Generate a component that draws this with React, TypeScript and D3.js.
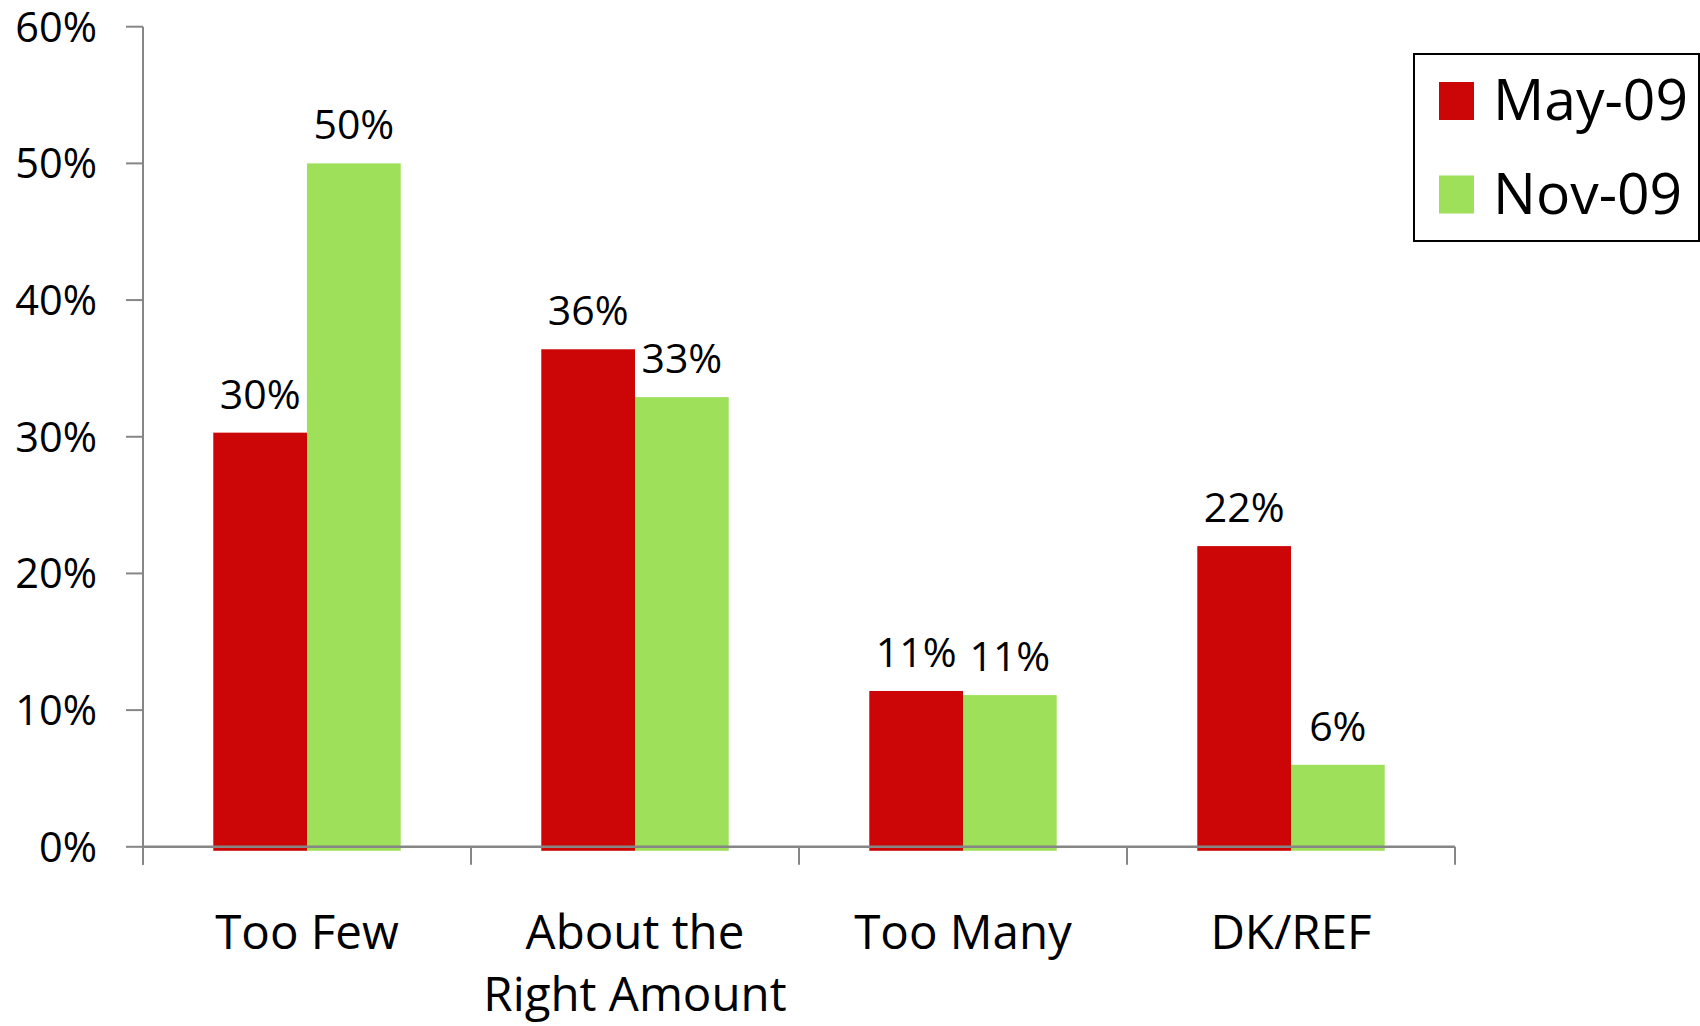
import React from "react";
import * as d3 from "d3";

const categories: string[][] = [["Too Few"], ["About the", "Right Amount"], ["Too Many"], ["DK/REF"]];
const seriesNames = ["May-09", "Nov-09"];
const may09 = [30.3, 36.4, 11.4, 22];
const nov09 = [50, 32.9, 11.1, 6];
const may09Labels = ["30%", "36%", "11%", "22%"];
const nov09Labels = ["50%", "33%", "11%", "6%"];
const yTicks = [0, 10, 20, 30, 40, 50, 60];
const colors = ["#CC0606", "#9EE05A"];

const W = 1700;
const H = 1026;
const left = 143;
const right = 1455;
const top = 26.7;
const bottom = 846.8;
const FONT = "'Open Sans', sans-serif";

export default function App() {
  const catKeys = categories.map((c) => c.join(" "));
  const x0 = d3.scaleBand<string>().domain(catKeys).range([left, right]).paddingInner(0).paddingOuter(0);
  const x1 = d3.scaleBand<string>().domain(seriesNames).range([0, x0.bandwidth()]).paddingInner(0).paddingOuter(0.75);
  const y = d3.scaleLinear().domain([0, 60]).range([bottom, top]);
  const values = [may09, nov09];
  const labels = [may09Labels, nov09Labels];
  const boundaries = [...catKeys.map((k) => x0(k) as number), right];

  return (
    <svg width={W} height={H} style={{ position: "absolute", left: 0, top: 0, background: "#fff" }} fontFamily={FONT}>
      {/* bars */}
      {catKeys.map((k, i) =>
        seriesNames.map((s, j) => {
          const v = values[j][i];
          const bx = (x0(k) as number) + (x1(s) as number);
          return (
            <rect key={k + s} x={bx} y={y(v)} width={x1.bandwidth()} height={y(0) - y(v) + 4} fill={colors[j]} />
          );
        })
      )}
      {/* data labels */}
      {catKeys.map((k, i) =>
        seriesNames.map((s, j) => {
          const v = values[j][i];
          const cx = (x0(k) as number) + (x1(s) as number) + x1.bandwidth() / 2;
          return (
            <text key={"l" + k + s} x={cx} y={y(v) - 24} textAnchor="middle" fontSize={41} fill="#000">
              {labels[j][i]}
            </text>
          );
        })
      )}
      {/* y axis */}
      <line x1={left} x2={left} y1={top} y2={bottom + 18} stroke="#868686" strokeWidth={2} />
      {yTicks.map((t) => (
        <g key={t}>
          <line x1={left - 17} x2={left} y1={y(t)} y2={y(t)} stroke="#868686" strokeWidth={2} />
          <text x={97} y={y(t) + 15} textAnchor="end" fontSize={41.5} fill="#000">
            {t + "%"}
          </text>
        </g>
      ))}
      {/* x axis */}
      <line x1={left} x2={right} y1={bottom} y2={bottom} stroke="#868686" strokeWidth={2.5} />
      {boundaries.map((b, i) => (
        <line key={"b" + i} x1={b} x2={b} y1={bottom} y2={bottom + 18} stroke="#868686" strokeWidth={2} />
      ))}
      {categories.map((lines, i) => {
        const cx = (x0(catKeys[i]) as number) + x0.bandwidth() / 2;
        return (
          <text key={"c" + i} x={cx} y={949} textAnchor="middle" fontSize={47.5} fill="#000">
            {lines.map((ln, li) => (
              <tspan key={li} x={cx} dy={li === 0 ? 0 : 62}>
                {ln}
              </tspan>
            ))}
          </text>
        );
      })}
      {/* legend */}
      <rect x={1414} y={54} width={285} height={187} fill="#fff" stroke="#000" strokeWidth={2} />
      {seriesNames.map((s, j) => (
        <g key={"lg" + s}>
          <rect x={1439} y={82 + j * 93.5} width={35} height={38} fill={colors[j]} />
          <text x={1493} y={120 + j * 93.5} fontSize={57} fill="#000">
            {s}
          </text>
        </g>
      ))}
    </svg>
  );
}
